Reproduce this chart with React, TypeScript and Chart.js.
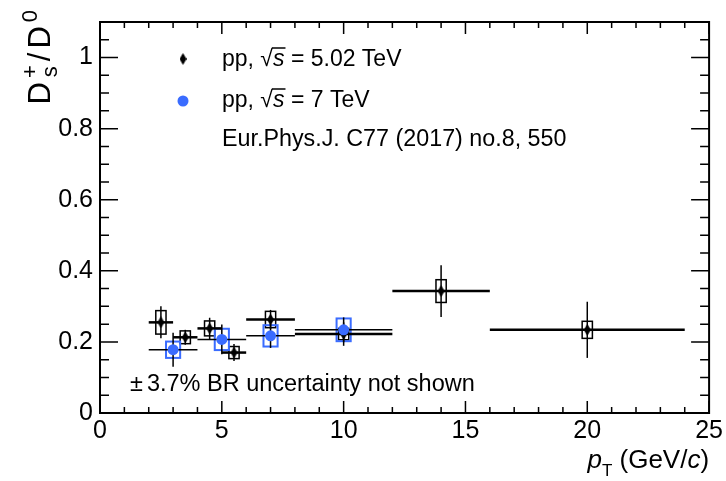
import React, { useEffect, useRef } from "react";
import { Chart, registerables } from "chart.js";

Chart.register(...registerables);

// pp, sqrt(s) = 5.02 TeV
const binLow502 = [2, 3, 4, 5, 6, 8, 12, 16];
const binHigh502 = [3, 4, 5, 6, 8, 12, 16, 24];
const ratio502 = [0.255, 0.213, 0.238, 0.17, 0.263, 0.222, 0.343, 0.234];
const stat502 = [0.045, 0.021, 0.03, 0.024, 0.027, 0.033, 0.073, 0.079];
const syst502 = [0.033, 0.018, 0.021, 0.017, 0.023, 0.016, 0.032, 0.024];

// pp, sqrt(s) = 7 TeV
const binLow7 = [2, 4, 6, 8];
const binHigh7 = [4, 6, 8, 12];
const ratio7 = [0.178, 0.207, 0.217, 0.234];
const stat7 = [0.048, 0.042, 0.034, 0.035];
const syst7 = [0.023, 0.03, 0.03, 0.032];

const xTicks = [0, 5, 10, 15, 20, 25];
const yTicks = [0, 0.2, 0.4, 0.6, 0.8, 1];
const xMinorStep = 1;
const yMinorStep = 0.05;

const legendLabels = ["5.02 TeV", "7 TeV"];
const refText = "Eur.Phys.J. C77 (2017) no.8, 550";
const brText = "3.7% BR uncertainty not shown";

const BLUE = "#3a6cff";
const FAMILY = '"Liberation Sans", Arial, Helvetica, sans-serif';
const font = (size: number, italic = false) =>
  `${italic ? "italic " : ""}${size}px ${FAMILY}`;

const BOX_HALF_502 = 0.21;
const BOX_HALF_7 = 0.29;

function makeDiamond(): HTMLCanvasElement {
  const c = document.createElement("canvas");
  c.width = 7;
  c.height = 12;
  const g = c.getContext("2d")!;
  g.fillStyle = "#000";
  g.beginPath();
  g.moveTo(3.5, 0);
  g.lineTo(7, 6);
  g.lineTo(3.5, 12);
  g.lineTo(0, 6);
  g.closePath();
  g.fill();
  return c;
}

export default function App() {
  const ref = useRef<HTMLCanvasElement>(null);

  useEffect(() => {
    const canvas = ref.current!;
    const diamond = makeDiamond();

    const errPlugin = {
      id: "errBars",
      beforeDatasetsDraw(chart: any) {
        const { ctx } = chart;
        const x = chart.scales.x;
        const y = chart.scales.y;
        ctx.save();
        const drawBox = (xc: number, v: number, e: number, hw: number, color: string, lw: number) => {
          const x0 = x.getPixelForValue(xc - hw);
          const x1 = x.getPixelForValue(xc + hw);
          const y0 = y.getPixelForValue(v + e);
          const y1 = y.getPixelForValue(v - e);
          ctx.strokeStyle = color;
          ctx.lineWidth = lw;
          ctx.strokeRect(x0, y0, x1 - x0, y1 - y0);
        };
        const drawBars = (lo: number, hi: number, v: number, e: number, hLw: number, vLw: number) => {
          const xc = (lo + hi) / 2;
          ctx.strokeStyle = "#000";
          ctx.lineWidth = hLw;
          ctx.beginPath();
          ctx.moveTo(x.getPixelForValue(lo), y.getPixelForValue(v));
          ctx.lineTo(x.getPixelForValue(hi), y.getPixelForValue(v));
          ctx.stroke();
          ctx.lineWidth = vLw;
          ctx.beginPath();
          ctx.moveTo(x.getPixelForValue(xc), y.getPixelForValue(v - e));
          ctx.lineTo(x.getPixelForValue(xc), y.getPixelForValue(v + e));
          ctx.stroke();
        };
        ratio502.forEach((v, i) => {
          const xc = (binLow502[i] + binHigh502[i]) / 2;
          drawBox(xc, v, syst502[i], BOX_HALF_502, "#000", 1.5);
        });
        ratio7.forEach((v, i) => {
          const xc = (binLow7[i] + binHigh7[i]) / 2;
          drawBox(xc, v, syst7[i], BOX_HALF_7, BLUE, 2);
        });
        ratio7.forEach((v, i) => drawBars(binLow7[i], binHigh7[i], v, stat7[i], 1.5, 1.5));
        ratio502.forEach((v, i) => drawBars(binLow502[i], binHigh502[i], v, stat502[i], 2.5, 1.5));
        ctx.restore();
      },
      afterDraw(chart: any) {
        const { ctx, chartArea } = chart;
        const { left, right, top, bottom } = chartArea;
        const x = chart.scales.x;
        const y = chart.scales.y;
        ctx.save();
        // ticks
        ctx.strokeStyle = "#000";
        ctx.lineWidth = 1.5;
        for (let k = 0; k <= 25 / xMinorStep + 1e-9; k++) {
          const v = k * xMinorStep;
          const px = x.getPixelForValue(v);
          const major = xTicks.some((t) => Math.abs(t - v) < 1e-9);
          const len = major ? 12 : 6;
          ctx.beginPath();
          ctx.moveTo(px, bottom);
          ctx.lineTo(px, bottom - len);
          ctx.moveTo(px, top);
          ctx.lineTo(px, top + len);
          ctx.stroke();
        }
        for (let k = 0; k * yMinorStep <= 1.1 + 1e-9; k++) {
          const v = k * yMinorStep;
          const py = y.getPixelForValue(v);
          const major = yTicks.some((t) => Math.abs(t - v) < 1e-9);
          const len = major ? 18 : 9;
          ctx.beginPath();
          ctx.moveTo(left, py);
          ctx.lineTo(left + len, py);
          ctx.moveTo(right, py);
          ctx.lineTo(right - len, py);
          ctx.stroke();
        }
        // frame
        ctx.lineWidth = 2;
        ctx.strokeRect(left, top, right - left, bottom - top);

        ctx.fillStyle = "#000";
        ctx.textBaseline = "alphabetic";
        ctx.textAlign = "left";

        // legend
        const drawSqrtLabel = (x0: number, base: number, energy: string) => {
          let cx = x0;
          ctx.font = font(23);
          ctx.fillText("pp, ", cx, base);
          cx += ctx.measureText("pp, ").width;
          ctx.fillText("\u221A", cx, base);
          const rw = ctx.measureText("\u221A").width;
          ctx.font = font(23, true);
          ctx.fillText("s", cx + rw, base);
          const sw = ctx.measureText("s").width;
          ctx.lineWidth = 1.5;
          ctx.beginPath();
          ctx.moveTo(cx + rw - 1, base - 18);
          ctx.lineTo(cx + rw + sw + 1, base - 18);
          ctx.stroke();
          cx += rw + sw;
          ctx.font = font(23);
          ctx.fillText(" = " + energy, cx, base);
        };
        ctx.drawImage(diamond, 183 - 3.5, 59 - 6);
        drawSqrtLabel(222, 66, legendLabels[0]);
        ctx.fillStyle = BLUE;
        ctx.beginPath();
        ctx.arc(183, 101, 5.5, 0, Math.PI * 2);
        ctx.fill();
        ctx.fillStyle = "#000";
        drawSqrtLabel(222, 107, legendLabels[1]);
        ctx.font = font(23.3);
        ctx.fillText(refText, 222, 146);

        // BR note
        ctx.font = font(23.5);
        ctx.fillText("\u00B1", 130, 391);
        const pmw = ctx.measureText("\u00B1").width;
        ctx.fillText(brText, 130 + pmw + 4, 391);

        // x title
        {
          const base = 468;
          const parts = [
            { t: "p", s: 26, it: true, dy: 0 },
            { t: "T", s: 17, it: false, dy: 8 },
            { t: " (GeV/", s: 26, it: false, dy: 0 },
            { t: "c", s: 26, it: true, dy: 0 },
            { t: ")", s: 26, it: false, dy: 0 },
          ];
          let total = 0;
          parts.forEach((p) => {
            ctx.font = font(p.s, p.it);
            total += ctx.measureText(p.t).width;
          });
          let cx = right - total;
          parts.forEach((p) => {
            ctx.font = font(p.s, p.it);
            ctx.fillText(p.t, cx, base + p.dy);
            cx += ctx.measureText(p.t).width;
          });
        }

        // y title (rotated)
        {
          ctx.translate(50, 10);
          ctx.rotate(-Math.PI / 2);
          const big = 31;
          const small = 22;
          ctx.font = font(big);
          const dW = ctx.measureText("D").width;
          const slashW = ctx.measureText("/").width;
          ctx.font = font(small);
          const plusW = ctx.measureText("+").width;
          const sW = ctx.measureText("s").width;
          const zeroW = ctx.measureText("0").width;
          const stackW = Math.max(plusW, sW);
          const gap = 4;
          const total = dW + gap + stackW + gap + slashW + gap + dW + gap + zeroW;
          let cx = -total;
          ctx.font = font(big);
          ctx.fillText("D", cx, 0);
          cx += dW + gap;
          ctx.font = font(small);
          ctx.fillText("+", cx, -13);
          ctx.fillText("s", cx + (stackW - sW) / 2, 7);
          cx += stackW + gap;
          ctx.font = font(big);
          ctx.fillText("/", cx, 0);
          cx += slashW + gap;
          ctx.fillText("D", cx, 0);
          cx += dW + gap;
          ctx.font = font(small);
          ctx.fillText("0", cx, -13);
        }
        ctx.restore();
      },
    };

    const data502 = ratio502.map((v, i) => ({ x: (binLow502[i] + binHigh502[i]) / 2, y: v }));
    const data7 = ratio7.map((v, i) => ({ x: (binLow7[i] + binHigh7[i]) / 2, y: v }));

    const chart = new Chart(canvas, {
      type: "scatter",
      data: {
        datasets: [
          {
            label: "pp 7 TeV",
            data: data7,
            pointStyle: "circle",
            pointRadius: 5.5,
            backgroundColor: BLUE,
            borderWidth: 0,
            order: 0,
          },
          {
            label: "pp 5.02 TeV",
            data: data502,
            pointStyle: diamond as any,
            pointRadius: 5,
            backgroundColor: "#000",
            borderWidth: 0,
            order: 1,
          },
        ],
      },
      options: {
        animation: false,
        responsive: false,
        devicePixelRatio: 1,
        layout: { padding: { top: 13, right: 14, left: 0, bottom: 0 } },
        plugins: { legend: { display: false }, tooltip: { enabled: false } },
        events: [],
        scales: {
          x: {
            type: "linear",
            min: 0,
            max: 25,
            afterBuildTicks: (s: any) => {
              s.ticks = xTicks.map((v) => ({ value: v }));
            },
            afterFit: (s: any) => {
              s.height = 68;
            },
            ticks: {
              autoSkip: false,
              maxRotation: 0,
              padding: 3,
              color: "#000",
              font: { size: 25, family: FAMILY },
              callback: (v: any) => String(v),
            },
            grid: { display: false, drawTicks: false },
            border: { display: false },
          },
          y: {
            type: "linear",
            min: 0,
            max: 1.1,
            afterBuildTicks: (s: any) => {
              s.ticks = yTicks.map((v) => ({ value: v }));
            },
            afterFit: (s: any) => {
              s.width = 100;
            },
            ticks: {
              autoSkip: false,
              padding: 7,
              color: "#000",
              font: { size: 25, family: FAMILY },
              callback: (v: any) => String(+Number(v).toFixed(2)),
            },
            grid: { display: false, drawTicks: false },
            border: { display: false },
          },
        },
      },
      plugins: [errPlugin],
    } as any);

    return () => chart.destroy();
  }, []);

  return (
    <div style={{ position: "absolute", left: 0, top: 0, width: 726, height: 481, background: "#fff" }}>
      <canvas ref={ref} width={726} height={481} style={{ width: 726, height: 481, display: "block" }} />
    </div>
  );
}
